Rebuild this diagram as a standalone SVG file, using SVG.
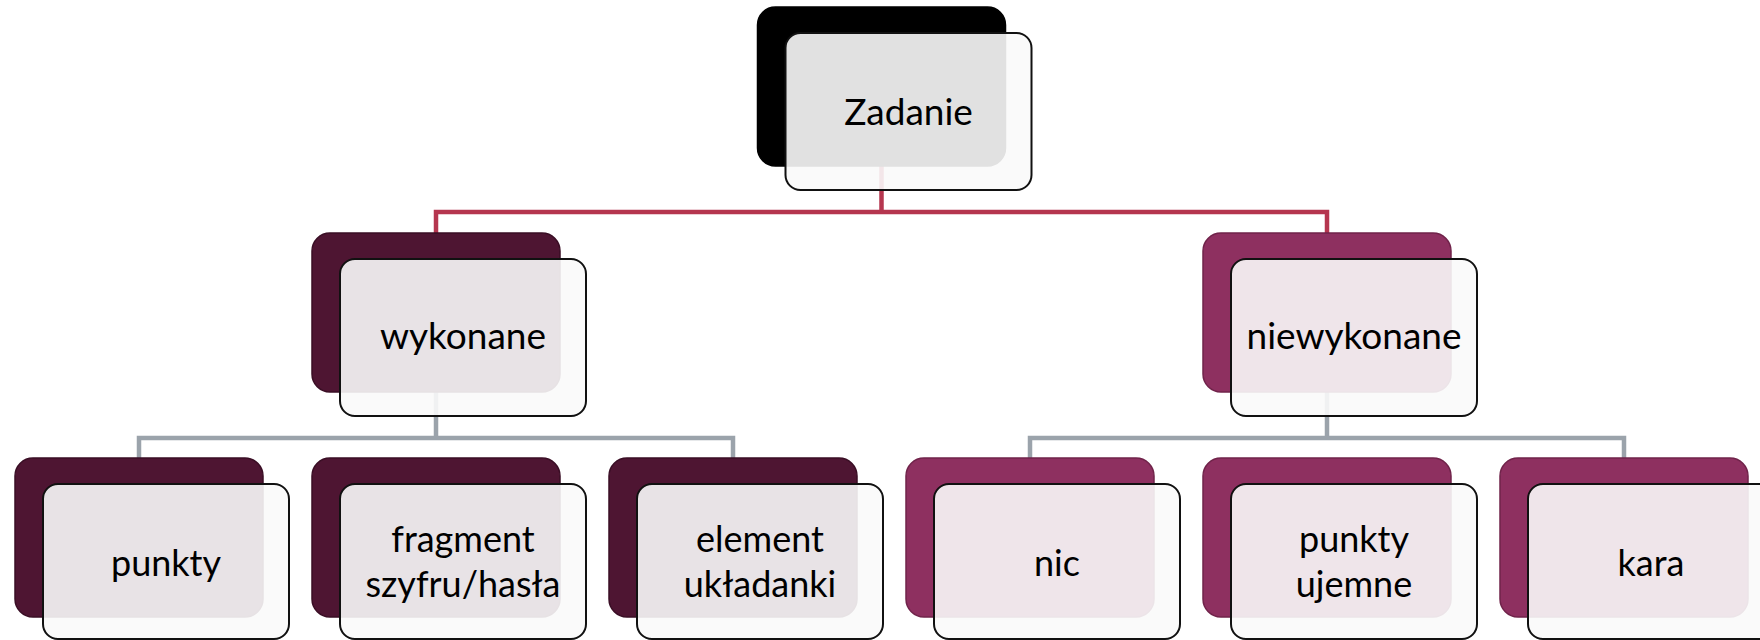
<svg xmlns="http://www.w3.org/2000/svg" width="1760" height="640" viewBox="0 0 1760 640">
<defs>
<style>
.back0{fill:#000000;stroke:#000000;stroke-width:1.5}
.back1{fill:#4e1532;stroke:#3a0e25;stroke-width:1.5}
.back2{fill:#8e3060;stroke:#70234a;stroke-width:1.5}
.front{fill:#f9f9f9;fill-opacity:0.9;stroke:#111111;stroke-width:2}
.lbl{font-family:Lato,"Liberation Sans",sans-serif;fill:#000000;text-anchor:middle}
.l1{font-size:37px}
.l3{font-size:36px}
.red{fill:none;stroke:#b5364f;stroke-width:4.5}
.gray{fill:none;stroke:#9ba3ab;stroke-width:4.5}
</style>
</defs>
<rect width="1760" height="640" fill="#ffffff"/>
<g id="connectors">
<path class="red" d="M881.5,166 V212 M436,233 V212 H1327 V233"/>
<path class="gray" d="M436,392 V438 M139,458 V438 H733 V458"/>
<path class="gray" d="M1327,392 V438 M1030,458 V438 H1624 V458"/>
</g>
<g id="zadanie">
<rect class="back0" x="757.5" y="7" width="248" height="159" rx="18"/>
<rect class="front" x="785.5" y="33" width="246" height="157" rx="15"/>
<text class="lbl l1" x="908.5" y="125">Zadanie</text>
</g>
<g id="wykonane">
<rect class="back1" x="312" y="233" width="248" height="159" rx="18"/>
<rect class="front" x="340" y="259" width="246" height="157" rx="15"/>
<text class="lbl l1" x="463" y="349">wykonane</text>
</g>
<g id="niewykonane">
<rect class="back2" x="1203" y="233" width="248" height="159" rx="18"/>
<rect class="front" x="1231" y="259" width="246" height="157" rx="15"/>
<text class="lbl l1" x="1354" y="349">niewykonane</text>
</g>
<g id="punkty">
<rect class="back1" x="15" y="458" width="248" height="159" rx="18"/>
<rect class="front" x="43" y="484" width="246" height="155" rx="15"/>
<text class="lbl l3" x="166" y="576">punkty</text>
</g>
<g id="fragment">
<rect class="back1" x="312" y="458" width="248" height="159" rx="18"/>
<rect class="front" x="340" y="484" width="246" height="155" rx="15"/>
<text class="lbl l3" x="463" y="552">fragment</text>
<text class="lbl l3" x="463" y="597">szyfru/hasła</text>
</g>
<g id="element">
<rect class="back1" x="609" y="458" width="248" height="159" rx="18"/>
<rect class="front" x="637" y="484" width="246" height="155" rx="15"/>
<text class="lbl l3" x="760" y="552">element</text>
<text class="lbl l3" x="760" y="597">układanki</text>
</g>
<g id="nic">
<rect class="back2" x="906" y="458" width="248" height="159" rx="18"/>
<rect class="front" x="934" y="484" width="246" height="155" rx="15"/>
<text class="lbl l3" x="1057" y="576">nic</text>
</g>
<g id="punkty-ujemne">
<rect class="back2" x="1203" y="458" width="248" height="159" rx="18"/>
<rect class="front" x="1231" y="484" width="246" height="155" rx="15"/>
<text class="lbl l3" x="1354" y="552">punkty</text>
<text class="lbl l3" x="1354" y="597">ujemne</text>
</g>
<g id="kara">
<rect class="back2" x="1500" y="458" width="248" height="159" rx="18"/>
<rect class="front" x="1528" y="484" width="246" height="155" rx="15"/>
<text class="lbl l3" x="1651" y="576">kara</text>
</g>
</svg>
